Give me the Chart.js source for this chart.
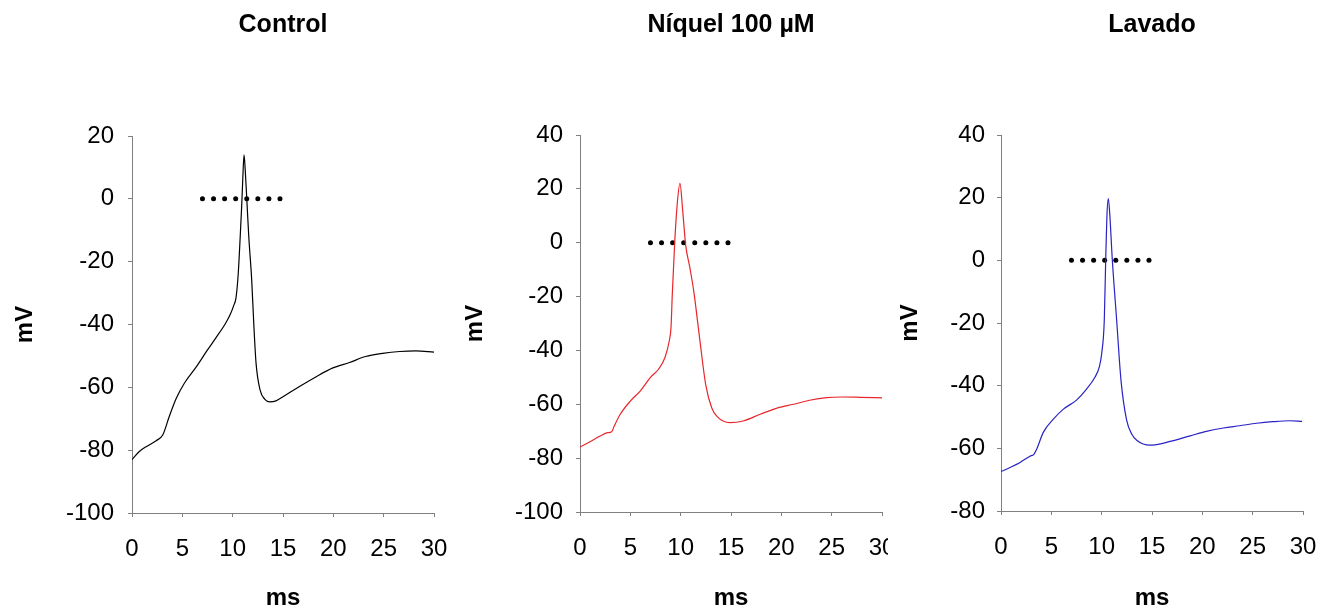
<!DOCTYPE html>
<html>
<head>
<meta charset="utf-8">
<script src="https://cdn.jsdelivr.net/npm/chart.js@4"></script>
<style>
    body { margin: 0; background: #fff; width: 1335px; height: 614px; position: relative; overflow: hidden; }
    .panel { position: absolute; top: 0; height: 614px; overflow: hidden; }
    canvas { display: block; }
</style>
</head>
<body>
<div class="panel" style="left:0px;width:480px"><canvas id="c1" width="480" height="614"></canvas></div>
<div class="panel" style="left:445px;width:443px"><canvas id="c2" width="470" height="614"></canvas></div>
<div class="panel" style="left:888px;width:447px"><canvas id="c3" width="447" height="614"></canvas></div>
<script>
// time in ms, membrane potential in mV
const controlT = [0, 0.7, 1.4, 2.4, 3.05, 3.7, 4.4, 5.2, 6.4, 7.5, 8.3, 9.3, 9.8, 10.1, 10.33, 10.55, 10.75, 10.9, 11.0, 11.13, 11.25, 11.39, 11.6, 11.89, 12.1, 12.32, 12.72, 13.2, 13.7, 14.3, 15.0, 16.6, 18.3, 19.9, 21.6, 23.2, 24.9, 26.6, 28.2, 30];
const controlV = [-83, -80.5, -78.9, -77, -75.2, -69.3, -63.5, -58.7, -53.4, -48.1, -44.4, -39.6, -36.5, -34, -31.5, -24, -12, -2, 6, 14, 9, 0.7, -12, -25.8, -40, -52.2, -60.8, -63.8, -64.6, -64.3, -63, -59.8, -56.6, -53.9, -52.1, -50.2, -49.2, -48.6, -48.4, -48.8];

const niquelT = [0, 1.0, 2.0, 2.65, 3.15, 3.4, 4.0, 5.0, 6.0, 7.0, 7.8, 8.44, 8.87, 9.04, 9.17, 9.4, 9.65, 9.93, 10.2, 10.5, 10.9, 11.3, 11.9, 12.5, 13.1, 13.6, 14.9, 16.2, 17.9, 19.5, 21.2, 22.8, 24.5, 26.1, 27.8, 30];
const niquelV = [-75.9, -73.9, -71.8, -70.6, -70.2, -68.1, -63.7, -58.8, -55, -50, -47, -42.6, -36.4, -31.5, -19, -0.5, 14, 22, 12, -1, -9, -18, -36, -53, -61.5, -64.5, -66.8, -66.2, -63.7, -61.5, -60, -58.5, -57.5, -57.3, -57.4, -57.6];

const lavadoT = [0, 0.9, 1.9, 2.88, 3.27, 3.54, 4.2, 5.2, 6.2, 7.5, 8.5, 9.33, 9.76, 10.0, 10.26, 10.4, 10.52, 10.66, 10.8, 11.06, 11.49, 11.92, 12.48, 13.0, 13.48, 14.8, 16.8, 18.8, 20.4, 22.1, 23.7, 25.4, 27.0, 28.7, 29.9];
const lavadoV = [-67.4, -66.1, -64.5, -62.5, -61.9, -60.3, -54.9, -50.7, -47.5, -44.6, -41.1, -37.3, -34.1, -29.8, -19.1, 0, 14, 19.7, 15, 0, -19.1, -38.3, -51, -55.5, -57.4, -59, -57.8, -56, -54.6, -53.5, -52.8, -52, -51.5, -51.2, -51.4];

// dotted 0 mV reference
const dotT = [7.0, 8.1, 9.2, 10.3, 11.4, 12.5, 13.6, 14.7];
const dotV = [0, 0, 0, 0, 0, 0, 0, 0];

const titles = ["Control", "Níquel 100 µM", "Lavado"];
const xTicks = [0, 30, 5];
const yRanges = [[-100, 20], [-100, 40], [-80, 40]];

Chart.defaults.font.family = "'Liberation Sans', Arial, sans-serif";
Chart.defaults.color = "#000";

const toPoints = (t, v) => t.map((x, i) => ({x: x, y: v[i]}));

const buildChart = (id, title, t, v, color, yRange, box) => {
    const ctx = document.querySelector(id).getContext("2d");
    const axisGrey = "#808080";

    return new Chart(ctx, {
        type: "line",
        data: {
            datasets: [{
                data: toPoints(t, v),
                borderColor: color,
                borderWidth: 1.2,
                pointRadius: 0,
                cubicInterpolationMode: "monotone",
                fill: false
            }, {
                data: toPoints(dotT, dotV),
                showLine: false,
                pointRadius: 2.5,
                pointBorderWidth: 0,
                pointBackgroundColor: "#000",
                borderColor: "#000"
            }]
        },
        options: {
            responsive: false,
            animation: false,
            devicePixelRatio: 1,
            layout: { padding: { left: 0, right: box.right, top: 0, bottom: 0 } },
            plugins: {
                legend: { display: false },
                tooltip: { enabled: false },
                title: {
                    display: true,
                    text: title,
                    fullSize: false,
                    color: "#000",
                    font: { size: 25, weight: "bold" },
                    padding: { top: 10, bottom: box.top - 10 - 30 }
                }
            },
            scales: {
                x: {
                    type: "linear",
                    min: xTicks[0],
                    max: xTicks[1],
                    border: { color: axisGrey, width: 1 },
                    grid: { drawOnChartArea: false, tickLength: 4, color: axisGrey },
                    ticks: { stepSize: xTicks[2], padding: 18, font: { size: 24 }, maxRotation: 0 },
                    title: { display: true, text: "ms", font: { size: 24, weight: "bold" }, padding: { top: 0, bottom: 1 } },
                    afterFit: (scale) => { scale.height = 614 - box.bottom; }
                },
                y: {
                    min: yRange[0],
                    max: yRange[1],
                    border: { color: axisGrey, width: 1 },
                    grid: { drawOnChartArea: false, tickLength: 4, color: axisGrey },
                    ticks: { stepSize: 20, padding: box.tickPad, font: { size: 24 } },
                    title: { display: true, text: "mV", font: { size: 24, weight: "bold" }, padding: { top: box.titlePad, bottom: 0 } },
                    afterFit: (scale) => { scale.width = box.left; }
                }
            }
        }
    });
};

buildChart("#c1", titles[0], controlT, controlV, "#000000", yRanges[0],
    { left: 132, right: 46, top: 136, bottom: 513, tickPad: 14, titlePad: 10.6 });
buildChart("#c2", titles[1], niquelT, niquelV, "#e8262b", yRanges[1],
    { left: 135, right: 33, top: 135, bottom: 512, tickPad: 13, titlePad: 15.6 });
buildChart("#c3", titles[2], lavadoT, lavadoV, "#2a22c4", yRanges[2],
    { left: 113, right: 32, top: 135, bottom: 511, tickPad: 12, titlePad: 7.6 });
</script>
</body>
</html>
